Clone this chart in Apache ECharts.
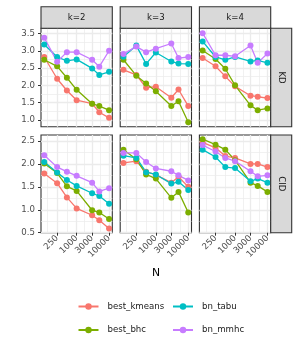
<!DOCTYPE html>
<html><head><meta charset="utf-8">
<script src="https://cdn.jsdelivr.net/npm/echarts@6/dist/echarts.min.js"></script>
<style>html,body{margin:0;padding:0;background:#fff}#c{width:300px;height:350px}</style>
</head><body><div id="c"></div><script>
// ---- data ----
const N = [100, 250, 500, 1000, 3000, 5000, 10000];
const methods = ['best_kmeans', 'best_bhc', 'bn_tabu', 'bn_mmhc'];
const kLabels = ['k=2', 'k=3', 'k=4'];
const metricLabels = ['KD', 'CID'];
const xTickLabels = [250, 1000, 3000, 10000];
const kdTickLabels = [1.0, 1.5, 2.0, 2.5, 3.0, 3.5];
const cidTickLabels = [0.5, 1.0, 1.5, 2.0, 2.5];

const kd_k2_kmeans = [2.82, 2.19, 1.85, 1.57, 1.47, 1.22, 1.06];
const kd_k2_bhc    = [2.74, 2.55, 2.22, 1.87, 1.47, 1.40, 1.28];
const kd_k2_tabu   = [3.18, 2.82, 2.71, 2.75, 2.49, 2.30, 2.39];
const kd_k2_mmhc   = [3.38, 2.68, 2.96, 2.96, 2.74, 2.54, 3.00];

const kd_k3_kmeans = [2.45, 2.30, 1.93, 1.96, 1.64, 1.88, 1.40];
const kd_k3_bhc    = [2.74, 2.28, 2.05, 1.83, 1.40, 1.54, 0.93];
const kd_k3_tabu   = [2.83, 3.15, 2.62, 2.95, 2.69, 2.63, 2.62];
const kd_k3_mmhc   = [2.91, 3.12, 2.96, 3.06, 3.21, 2.79, 2.82];

const kd_k4_kmeans = [2.79, 2.55, 2.26, 1.97, 1.70, 1.67, 1.63];
const kd_k4_bhc    = [3.01, 2.76, 2.48, 2.00, 1.42, 1.28, 1.33];
const kd_k4_tabu   = [3.27, 2.82, 2.74, 2.82, 2.69, 2.72, 2.65];
const kd_k4_mmhc   = [3.51, 2.87, 2.87, 2.84, 3.15, 2.65, 2.92];

const cid_k2_kmeans = [1.79, 1.58, 1.27, 1.03, 0.88, 0.77, 0.59];
const cid_k2_bhc    = [2.01, 1.80, 1.51, 1.41, 0.99, 0.94, 0.80];
const cid_k2_tabu   = [2.04, 1.81, 1.65, 1.52, 1.36, 1.30, 1.13];
const cid_k2_mmhc   = [2.19, 1.93, 1.83, 1.74, 1.59, 1.40, 1.47];

const cid_k3_kmeans = [2.02, 2.06, 1.83, 1.76, 1.59, 1.72, 1.50];
const cid_k3_bhc    = [2.31, 2.10, 1.77, 1.68, 1.26, 1.39, 0.94];
const cid_k3_tabu   = [2.18, 2.13, 1.82, 1.77, 1.57, 1.61, 1.43];
const cid_k3_mmhc   = [2.24, 2.24, 2.04, 1.90, 1.84, 1.75, 1.64];

const cid_k4_kmeans = [2.47, 2.35, 2.17, 2.13, 2.00, 2.00, 1.93];
const cid_k4_bhc    = [2.54, 2.42, 2.31, 2.08, 1.59, 1.52, 1.39];
const cid_k4_tabu   = [2.31, 2.15, 1.93, 1.91, 1.62, 1.68, 1.59];
const cid_k4_mmhc   = [2.41, 2.27, 2.13, 2.06, 1.84, 1.73, 1.75];

const panelData = [
  [[kd_k2_kmeans, kd_k2_bhc, kd_k2_tabu, kd_k2_mmhc],
   [kd_k3_kmeans, kd_k3_bhc, kd_k3_tabu, kd_k3_mmhc],
   [kd_k4_kmeans, kd_k4_bhc, kd_k4_tabu, kd_k4_mmhc]],
  [[cid_k2_kmeans, cid_k2_bhc, cid_k2_tabu, cid_k2_mmhc],
   [cid_k3_kmeans, cid_k3_bhc, cid_k3_tabu, cid_k3_mmhc],
   [cid_k4_kmeans, cid_k4_bhc, cid_k4_tabu, cid_k4_mmhc]]
];

// ---- styling / layout ----
const colors = ['#F8766D', '#7CAE00', '#00BFC4', '#C77CFF'];
const FONT = 'DejaVu Sans';
const colLeft = [41, 120.2, 199.4];
const panelW = 71.3;
const rowTop = [28.3, 135];
const rowH = [98.5, 97.7];
const yRange = [[0.80, 3.65], [0.50, 2.63]];
const yMajor = [kdTickLabels, cidTickLabels];
const yMinor = [[1.25, 1.75, 2.25, 2.75, 3.25], [0.75, 1.25, 1.75, 2.25]];
const xMin = Math.pow(10, 1.9), xMax = Math.pow(10, 4.1);
const xMinor = [125, 500, 1732, 5477];

const grid = [], xAxis = [], yAxis = [], series = [], graphic = [];
let gi = 0;
for (let r = 0; r < 2; r++) {
  for (let c = 0; c < 3; c++) {
    grid.push({left: colLeft[c], top: rowTop[r], width: panelW, height: rowH[r],
      show: true, borderColor: '#333333', borderWidth: 1.1, backgroundColor: '#ffffff', containLabel: false});
    const bottomRow = r === 1, leftCol = c === 0;
    // major x
    xAxis.push({type: 'log', logBase: 10, gridIndex: gi, min: xMin, max: xMax,
      axisLine: {show: false},
      axisTick: {show: bottomRow, length: 3, lineStyle: {color: '#333333', width: 1}, customValues: xTickLabels},
      axisLabel: {show: bottomRow, customValues: xTickLabels, rotate: 45, margin: 4,
        fontFamily: FONT, fontSize: 8.6, color: '#4D4D4D', formatter: v => String(Math.round(v))},
      splitLine: {show: true, lineStyle: {color: '#EBEBEB', width: 1.3}},
      z: 1});
    // minor x
    xAxis.push({type: 'log', logBase: 10, gridIndex: gi, min: xMin, max: xMax,
      axisLine: {show: false}, axisLabel: {show: false},
      axisTick: {show: false, customValues: xMinor},
      splitLine: {show: true, lineStyle: {color: '#EBEBEB', width: 0.7}}, z: 0});
    // major y
    yAxis.push({type: 'value', gridIndex: gi, min: yRange[r][0], max: yRange[r][1],
      axisLine: {show: false},
      axisTick: {show: leftCol, length: 3, lineStyle: {color: '#333333', width: 1}, customValues: yMajor[r]},
      axisLabel: {show: leftCol, customValues: yMajor[r], margin: 6,
        fontFamily: FONT, fontSize: 8.6, color: '#4D4D4D', formatter: v => v.toFixed(1)},
      splitLine: {show: true, lineStyle: {color: '#EBEBEB', width: 1.3}}, z: 1});
    // minor y
    yAxis.push({type: 'value', gridIndex: gi, min: yRange[r][0], max: yRange[r][1],
      axisLine: {show: false}, axisLabel: {show: false},
      axisTick: {show: false, customValues: yMinor[r]},
      splitLine: {show: true, lineStyle: {color: '#EBEBEB', width: 0.7}}, z: 0});
    for (let m = 0; m < methods.length; m++) {
      const vals = panelData[r][c][m];
      series.push({type: 'line', name: methods[m], xAxisIndex: 2 * gi, yAxisIndex: 2 * gi,
        data: N.map((n, i) => [n, vals[i]]),
        symbol: 'circle', symbolSize: 6, showSymbol: true,
        lineStyle: {color: colors[m], width: 1.3},
        itemStyle: {color: colors[m]},
        color: colors[m], z: 3, animation: false});
    }
    gi++;
  }
}

// strips
for (let c = 0; c < 3; c++) {
  graphic.push({type: 'rect', shape: {x: colLeft[c], y: 6.7, width: panelW, height: 21.6},
    style: {fill: '#D9D9D9', stroke: '#333333', lineWidth: 1.1}, z: 10});
  graphic.push({type: 'text', x: colLeft[c] + panelW / 2, y: 17.6,
    style: {text: kLabels[c], fill: '#1A1A1A', font: '8.6px "' + FONT + '"', align: 'center', verticalAlign: 'middle'}, z: 11});
}
const stripX = colLeft[2] + panelW;
for (let r = 0; r < 2; r++) {
  graphic.push({type: 'rect', shape: {x: stripX, y: rowTop[r], width: 21, height: rowH[r]},
    style: {fill: '#D9D9D9', stroke: '#333333', lineWidth: 1.1}, z: 10});
  graphic.push({type: 'text', x: stripX + 10.5, y: rowTop[r] + rowH[r] / 2, rotation: -Math.PI / 2,
    style: {text: metricLabels[r], fill: '#1A1A1A', font: '8.6px "' + FONT + '"', align: 'center', verticalAlign: 'middle'}, z: 11});
}
graphic.push({type: 'text', x: 156, y: 273,
  style: {text: 'N', fill: '#000000', font: '10.8px "' + FONT + '"', align: 'center', verticalAlign: 'middle'}, z: 11});

const legendBase = {orient: 'vertical', top: 302, padding: 0, itemWidth: 20, itemHeight: 8, itemGap: 14.5,
  selectedMode: false, textStyle: {fontFamily: FONT, fontSize: 8.6, color: '#1A1A1A', padding: [0, 0, 0, 4]}};
const legend = [
  Object.assign({}, legendBase, {left: 77.5, data: [methods[0], methods[1]]}),
  Object.assign({}, legendBase, {left: 172, data: [methods[2], methods[3]]})
];

const chart = echarts.init(document.getElementById('c'), null, {renderer: 'canvas'});
chart.setOption({animation: false, backgroundColor: '#ffffff', grid, xAxis, yAxis, series, legend, graphic});
</script></body></html>
